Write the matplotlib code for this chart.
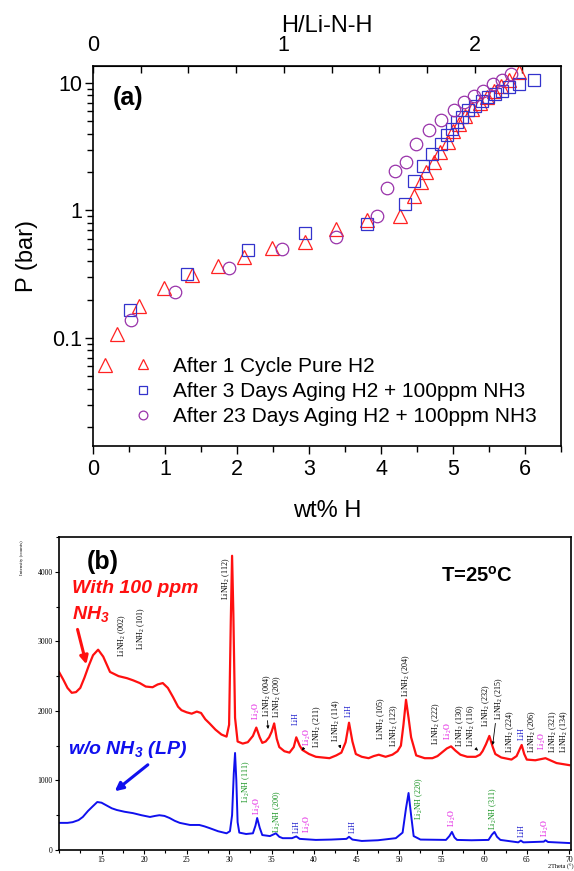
import matplotlib
matplotlib.use("Agg")
import matplotlib.pyplot as plt
from matplotlib.ticker import MultipleLocator, NullFormatter

plt.rcParams['font.family'] = ['Liberation Sans', 'DejaVu Sans']
plt.rcParams['mathtext.default'] = 'regular'

# ---------------- panel (a): PCT isotherms ----------------
tri_wt = [0.16, 0.34, 0.64, 0.99, 1.38, 1.73, 2.10, 2.49, 2.95, 3.38, 3.80, 4.26, 4.46, 4.56,
          4.63, 4.73, 4.82, 4.93, 5.00, 5.08, 5.17, 5.27, 5.37, 5.47, 5.57, 5.67, 5.78, 5.91]
tri_p = [0.061, 0.108, 0.177, 0.246, 0.31, 0.366, 0.43, 0.51, 0.57, 0.72, 0.84, 0.91, 1.31, 1.67,
         2.0, 2.39, 2.87, 3.43, 4.24, 4.8, 5.5, 6.2, 7.0, 7.8, 8.6, 9.5, 10.6, 12.2]

sq_wt = [0.51, 1.31, 2.15, 2.94, 3.80, 4.33, 4.46, 4.58, 4.71, 4.84, 4.91, 4.98, 5.05, 5.12,
         5.21, 5.31, 5.40, 5.49, 5.58, 5.68, 5.78, 5.92, 6.13]
sq_p = [0.166, 0.32, 0.486, 0.66, 0.785, 1.13, 1.70, 2.25, 2.79, 3.34, 3.88, 4.37, 4.93, 5.46,
        6.09, 6.66, 7.2, 7.74, 8.23, 8.73, 9.27, 9.85, 10.6]

circ_wt = [0.53, 1.14, 1.89, 2.62, 3.38, 3.95, 4.09, 4.19, 4.35, 4.49, 4.67, 4.84, 5.01, 5.15,
           5.29, 5.41, 5.55, 5.68, 5.80]
circ_p = [0.139, 0.229, 0.353, 0.50, 0.625, 0.90, 1.50, 2.03, 2.42, 3.34, 4.30, 5.14, 6.09, 7.07,
          7.84, 8.73, 9.85, 10.6, 11.7]

series_labels = ['After 1 Cycle Pure H2',
                 'After 3 Days Aging H2 + 100ppm NH3',
                 'After 23 Days Aging H2 + 100ppm NH3']

WT_PER_H = 2.65  # wt% H per H/Li-N-H

# ---------------- panel (b): XRD ----------------
red_2th = [10.0, 10.5, 11.0, 11.5, 12.0, 12.5, 13.0, 13.5, 14.0, 14.6, 15.2, 16.0, 17.0, 18.0,
           18.7, 19.5, 20.2, 21.0, 21.6, 22.2, 22.8, 23.4, 24.0, 24.4, 25.0, 25.6, 26.2, 26.7,
           27.2, 27.7, 28.4, 29.1, 29.7, 30.0, 30.2, 30.35, 30.5, 30.7, 31.0, 31.6, 32.2, 32.8,
           33.2, 33.6, 33.9, 34.3, 34.7, 35.0, 35.3, 35.6, 35.9, 36.5, 37.1, 37.6, 37.9, 38.3,
           38.6, 39.4, 40.2, 41.0, 41.8, 42.6, 43.2, 43.7, 44.1, 44.5, 44.9, 45.6, 46.4, 47.0,
           47.6, 48.4, 49.2, 49.8, 50.2, 50.5, 50.8, 51.1, 51.4, 52.0, 53.0, 53.9, 54.5, 55.0,
           55.6, 56.1, 56.6, 57.2, 58.0, 59.0, 59.5, 59.8, 60.2, 60.6, 61.0, 61.3, 62.0, 63.2,
           63.8, 64.4, 64.7, 65.0, 66.0, 67.2, 68.5, 70.0]
red_int = [2560, 2450, 2330, 2260, 2270, 2330, 2480, 2650, 2800, 2880, 2780, 2560, 2500, 2470,
           2440, 2400, 2350, 2340, 2380, 2400, 2330, 2200, 2060, 2010, 1980, 1960, 1990, 1970,
           1880, 1820, 1730, 1660, 1630, 1800, 3300, 4230, 3400, 1900, 1560, 1530, 1550, 1640,
           1760, 1620, 1540, 1560, 1620, 1700, 1820, 1600, 1480, 1420, 1400, 1480, 1620, 1500,
           1440, 1380, 1340, 1330, 1320, 1360, 1400, 1550, 1830, 1560, 1380, 1340, 1320, 1350,
           1370, 1340, 1370, 1420, 1500, 1800, 2160, 1900, 1620, 1360, 1320, 1320, 1350, 1400,
           1460, 1490, 1430, 1370, 1340, 1340, 1370, 1420, 1520, 1640, 1480, 1380, 1330, 1300,
           1350, 1510, 1380, 1300, 1290, 1320, 1250, 1220]

blue_2th = [10.0, 11.0, 11.6, 12.3, 12.8, 13.4, 13.9, 14.5, 15.0, 15.6, 16.2, 16.8, 17.7, 18.7,
            19.7, 20.7, 21.3, 21.8, 22.4, 23.0, 23.6, 24.2, 25.4, 26.5, 27.1, 27.7, 28.7, 29.7,
            30.1, 30.35, 30.55, 30.7, 30.85, 31.0, 31.2, 32.0, 32.8, 33.1, 33.3, 33.6, 33.9, 34.8,
            35.5, 35.9, 36.3, 37.4, 37.9, 38.3, 40.2, 42.0, 43.8, 44.1, 44.5, 45.6, 47.5, 49.6,
            50.4, 50.8, 51.1, 51.4, 51.7, 52.5, 55.5, 55.9, 56.2, 56.5, 56.8, 58.5, 60.5, 60.9,
            61.2, 61.5, 61.9, 64.0, 64.3, 64.6, 67.0, 67.2, 67.5, 70.0]
blue_int = [390, 390, 400, 430, 475, 560, 620, 690, 680, 640, 600, 575, 550, 530,
            500, 475, 490, 500, 490, 460, 420, 390, 360, 360, 340, 315, 270, 240,
            270, 500, 1100, 1395, 1000, 400, 250, 230, 240, 350, 460, 320, 215, 200,
            240, 190, 170, 170, 195, 160, 145, 150, 160, 190, 150, 130, 140, 170,
            250, 600, 820, 500, 200, 150, 145, 200, 260, 180, 145, 140, 145, 220,
            260, 190, 145, 110, 135, 110, 120, 140, 115, 100]

# peak labels: text, 2theta, bottom of text (counts), colour key
peak_text = [r'LiNH$_2$ (002)', r'LiNH$_2$ (101)', r'LiNH$_2$ (112)', r'Li$_2$O',
             r'LiNH$_2$ (004)', r'LiNH$_2$ (200)', 'LiH', r'Li$_2$O', r'LiNH$_2$ (211)',
             r'LiNH$_2$ (114)', 'LiH', r'LiNH$_2$ (105)', r'LiNH$_2$ (123)', r'LiNH$_2$ (204)',
             r'LiNH$_2$ (222)', r'Li$_2$O', r'LiNH$_2$ (130)', r'LiNH$_2$ (116)',
             r'LiNH$_2$ (232)', r'LiNH$_2$ (215)', r'LiNH$_2$ (224)', 'LiH', r'LiNH$_2$ (206)',
             r'Li$_2$O', r'LiNH$_2$ (321)', r'LiNH$_2$ (134)',
             r'Li$_2$NH (111)', r'Li$_2$O', r'Li$_2$NH (200)', 'LiH', r'Li$_2$O', 'LiH',
             r'Li$_2$NH (220)', r'Li$_2$O', r'Li$_2$NH (311)', 'LiH', r'Li$_2$O']
peak_x = [17.4, 19.7, 29.7, 33.2, 34.5, 35.7, 37.9, 39.2, 40.4, 42.6, 44.1, 47.9, 49.4, 50.8,
          54.3, 55.8, 57.2, 58.5, 60.2, 61.7, 63.1, 64.4, 65.6, 66.85, 68.15, 69.4,
          32.0, 33.3, 35.7, 38.0, 39.2, 44.5, 52.3, 56.2, 61.1, 64.4, 67.2]
peak_y = [2780, 2880, 3600, 1870, 1910, 1900, 1800, 1500, 1470, 1550, 1910, 1580, 1480, 2200,
          1510, 1580, 1480, 1480, 1770, 1870, 1400, 1580, 1400, 1440, 1400, 1400,
          680, 500, 250, 250, 250, 250, 430, 330, 290, 190, 190]
peak_kind = ['n', 'n', 'n', 'o', 'n', 'n', 'h', 'o', 'n', 'n', 'h', 'n', 'n', 'n',
             'n', 'o', 'n', 'n', 'n', 'n', 'n', 'h', 'n', 'o', 'n', 'n',
             'g', 'o', 'g', 'h', 'o', 'h', 'g', 'o', 'g', 'h', 'o']
kind_color = {'n': 'black', 'h': '#1a1acc', 'o': '#e010e0', 'g': '#10901a'}

# small pointer arrows: (tail x, tail y, head x, head y)
pointer_arrows = [(34.5, 1900, 34.6, 1700), (38.95, 1490, 38.55, 1430),
                  (42.9, 1540, 43.2, 1420), (58.9, 1470, 59.5, 1400),
                  (61.35, 1860, 60.95, 1470)]

fig = plt.figure(figsize=(5.74, 8.71), dpi=100)

# ---------- (a) ----------
ax = fig.add_axes([93 / 574, 1 - 446 / 871, 468 / 574, 380 / 871])
ax.plot(tri_wt, tri_p, linestyle='none', marker='^', markersize=10, markerfacecolor='none',
        markeredgecolor='#ff2222', markeredgewidth=0.9, label=series_labels[0])
ax.plot(sq_wt, sq_p, linestyle='none', marker='s', markersize=8, markerfacecolor='none',
        markeredgecolor='#3333cc', markeredgewidth=0.9, label=series_labels[1])
ax.plot(circ_wt, circ_p, linestyle='none', marker='o', markersize=9, markerfacecolor='none',
        markeredgecolor='#9933aa', markeredgewidth=0.9, label=series_labels[2])
ax.set_yscale('log')
ax.set_xlim(0, 6.5)
ax.set_ylim(0.0142, 13.6)
ax.set_yticks([0.1, 1, 10])
ax.set_yticklabels(['0.1', '1', '10'])
ax.yaxis.set_minor_formatter(NullFormatter())
ax.xaxis.set_major_locator(MultipleLocator(1))
ax.xaxis.set_minor_locator(MultipleLocator(0.5))
ax.tick_params(which='both', direction='out', top=False, right=False, labelsize=15.5, width=1)
ax.tick_params(which='major', length=6, pad=2)
ax.tick_params(which='minor', length=4)
ax.tick_params(axis='x', which='major', pad=3)
for s in ax.spines.values():
    s.set_linewidth(1.2)
ax.set_xlabel('wt% H', fontsize=17, labelpad=15)
ax.set_ylabel('P (bar)', fontsize=17, labelpad=10)

sec = ax.secondary_xaxis('top', functions=(lambda w: w / WT_PER_H, lambda h: h * WT_PER_H))
sec.set_xticks([0, 1, 2])
sec.set_xticklabels(['0', '1', '2'])
sec.xaxis.set_minor_locator(MultipleLocator(0.25))
sec.tick_params(which='both', direction='in', length=5, width=1, labelsize=15.5, pad=7)
sec.set_xlabel('H/Li-N-H', fontsize=17, labelpad=2)

ax.text(0.043, 0.915, '(a)', transform=ax.transAxes, fontsize=18, fontweight='bold',
        va='center', ha='left')
ax.legend(loc='lower left', bbox_to_anchor=(0.04, 0.025), frameon=False, fontsize=15,
          markerscale=0.7, handletextpad=0.45, labelspacing=0.3, borderpad=0)

# ---------- (b) ----------
bx = fig.add_axes([59 / 574, 1 - 850 / 871, 512 / 574, 313 / 871])
bx.plot(red_2th, red_int, color='#ff1010', linewidth=1.6)
bx.plot(blue_2th, blue_int, color='#1010ee', linewidth=1.4)
bx.set_xlim(10, 70.2)
bx.set_ylim(0, 4500)
bx.set_xticks(range(15, 71, 5))
bx.xaxis.set_minor_locator(MultipleLocator(2.5))
bx.set_yticks(range(0, 4001, 1000))
bx.yaxis.set_minor_locator(MultipleLocator(500))
bx.tick_params(which='both', direction='out', top=False, right=False, labelsize=5.5,
               width=0.8, pad=1.5)
bx.tick_params(which='major', length=3)
bx.tick_params(which='minor', length=2)
for lab in bx.get_xticklabels() + bx.get_yticklabels():
    lab.set_family('Liberation Serif')
for s in bx.spines.values():
    s.set_linewidth(1.2)

for t, x, y, k in zip(peak_text, peak_x, peak_y, peak_kind):
    bx.text(x, y, t, rotation=90, ha='center', va='bottom', fontsize=5.8,
            family='Liberation Serif', color=kind_color[k])
for x0, y0, x1, y1 in pointer_arrows:
    bx.annotate('', xy=(x1, y1), xytext=(x0, y0),
                arrowprops=dict(arrowstyle='-|>', color='black', lw=0.6, mutation_scale=4))

bx.text(0.055, 0.92, '(b)', transform=bx.transAxes, fontsize=18, fontweight='bold',
        va='center', ha='left')
bx.text(0.025, 0.835, 'With 100 ppm', transform=bx.transAxes, fontsize=14,
        fontweight='bold', style='italic', color='#ff1010', va='center', ha='left')
bx.text(0.025, 0.755, r'NH$_3$', transform=bx.transAxes, fontsize=14,
        fontweight='bold', style='italic', color='#ff1010', va='center', ha='left')
bx.text(0.018, 0.32, r'w/o NH$_3$ (LP)', transform=bx.transAxes, fontsize=14,
        fontweight='bold', style='italic', color='#1010ee', va='center', ha='left')
bx.text(0.747, 0.875, r'T=25$^{o}$C', transform=bx.transAxes, fontsize=14.5,
        fontweight='bold', va='center', ha='left')
bx.annotate('', xy=(13.3, 2630), xytext=(12.1, 3210),
            arrowprops=dict(arrowstyle='-|>', color='#ff1010', lw=2.2, mutation_scale=12))
bx.annotate('', xy=(16.3, 820), xytext=(20.7, 1250),
            arrowprops=dict(arrowstyle='-|>', color='#1010ee', lw=2.2, mutation_scale=12))

fig.text(22 / 574, 1 - 558 / 871, 'Intensity (counts)', rotation=90, fontsize=3.5,
         family='Liberation Serif', ha='center', va='center')
fig.text(548 / 574, 1 - 867 / 871, '2Theta (\u00b0)', fontsize=4.5,
         family='Liberation Serif', ha='left', va='center')

fig.savefig('out.png', dpi=100)
